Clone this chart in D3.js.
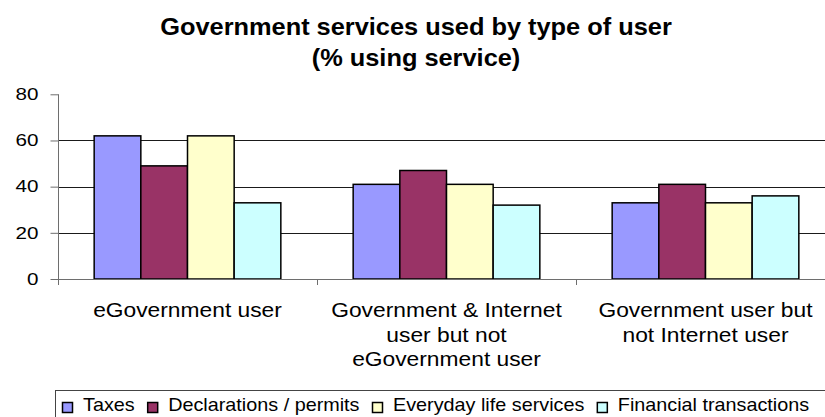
<!DOCTYPE html>
<html>
<head>
<meta charset="utf-8">
<script src="https://cdn.jsdelivr.net/npm/d3@7"></script>
<style>
  html, body { margin: 0; padding: 0; background: #fff; }
  svg { display: block; font-family: "Liberation Sans", Arial, sans-serif; }
</style>
</head>
<body>
<svg id="chart" width="825" height="417"></svg>
<script>
// Category labels (line breaks where the axis label wraps)
const categories = [
  "eGovernment user",
  "Government & Internet\nuser but not\neGovernment user",
  "Government user but\nnot Internet user"
];
const seriesNames = ["Taxes", "Declarations / permits", "Everyday life services", "Financial transactions"];
const taxes = [62, 41, 33];
const declarations = [49, 47, 41];
const everyday = [62, 41, 33];
const financial = [33, 32, 36];
const yTicks = [0, 20, 40, 60, 80];
const seriesColors = ["#9999FF", "#993366", "#FFFFCC", "#CCFFFF"];
const titleLines = ["Government services used by type of user", "(% using service)"];

const seriesValues = [taxes, declarations, everyday, financial];

const svg = d3.select("#chart");
const left = 58, band = 259, baseY = 279, topY = 94.3;

const x0 = d3.scaleBand().domain(d3.range(categories.length))
  .range([left, left + band * categories.length]).paddingInner(0).paddingOuter(0);
const x1 = d3.scaleBand().domain(d3.range(seriesNames.length))
  .range([0, x0.bandwidth()]).paddingInner(0).paddingOuter(0.775);
const y = d3.scaleLinear().domain([0, 80]).range([baseY, topY]);

// Title
svg.append("g").selectAll("text").data(titleLines).join("text")
  .attr("transform", (d, i) => `translate(416,${35 + i * 31}) scale(1.08,1)`)
  .attr("text-anchor", "middle")
  .attr("font-size", 23.5).attr("font-weight", "bold").attr("fill", "#000")
  .text(d => d);

// Gridlines
svg.append("g").selectAll("line").data(yTicks.filter(v => v > 0 && v < 80)).join("line")
  .attr("x1", left).attr("x2", 825)
  .attr("y1", d => Math.round(y(d)) + 0.5).attr("y2", d => Math.round(y(d)) + 0.5)
  .attr("stroke", "#1a1a1a").attr("stroke-width", 1);

// Bars
const groups = svg.append("g").selectAll("g").data(categories.map((c, i) => i)).join("g")
  .attr("transform", i => `translate(${x0(i)},0)`);
groups.selectAll("rect").data(i => seriesValues.map((vals, s) => ({ s, v: vals[i] }))).join("rect")
  .attr("x", d => x1(d.s)).attr("width", x1.bandwidth())
  .attr("y", d => y(d.v)).attr("height", d => baseY - y(d.v))
  .attr("fill", d => seriesColors[d.s])
  .attr("stroke", "#000").attr("stroke-width", 1.5);

// Y axis
const yAxis = svg.append("g").attr("transform", `translate(${left + 0.5},0)`)
  .call(d3.axisLeft(y).tickValues(yTicks).tickSize(8).tickSizeOuter(0));
yAxis.select(".domain").attr("stroke", "#6e6e6e").attr("d", `M0,${topY}V${baseY + 6}`);
yAxis.selectAll(".tick line").attr("stroke", "#6e6e6e");
yAxis.selectAll(".tick text")
  .attr("x", null)
  .attr("transform", "translate(-20,0) scale(1.25,1)")
  .attr("font-size", 16.5).attr("font-family", "Liberation Sans, Arial, sans-serif").attr("fill", "#000");

// X axis line and category boundary ticks
const xAxis = svg.append("g");
xAxis.append("line").attr("x1", left).attr("x2", 825)
  .attr("y1", baseY + 0.5).attr("y2", baseY + 0.5).attr("stroke", "#6e6e6e");
const bounds = categories.map((c, i) => x0(i)).concat([x0(categories.length - 1) + x0.bandwidth()]);
xAxis.selectAll("line.tk").data(bounds).join("line").attr("class", "tk")
  .attr("x1", d => d + 0.5).attr("x2", d => d + 0.5)
  .attr("y1", baseY).attr("y2", baseY + 6).attr("stroke", "#6e6e6e");

// Category labels
const catLabels = xAxis.selectAll("g.cat").data(categories.map((c, i) => i)).join("g").attr("class", "cat")
  .attr("transform", i => `translate(${x0(i) + x0.bandwidth() / 2},0)`);
catLabels.selectAll("text").data(i => categories[i].split("\n")).join("text")
  .attr("transform", (d, j) => `translate(0,${317 + j * 24.5}) scale(1.14,1)`)
  .attr("text-anchor", "middle").attr("font-size", 20).attr("fill", "#000")
  .text(d => d);

// Legend
const legend = svg.append("g");
legend.append("rect").attr("x", 55.5).attr("y", 390.5).attr("width", 800).attr("height", 60)
  .attr("fill", "#fff").attr("stroke", "#444").attr("stroke-width", 1);
let lx = 62;
const legendScale = 1.1;
seriesNames.forEach((name, s) => {
  legend.append("rect").attr("x", lx + 0.5).attr("y", 402.5).attr("width", 10).attr("height", 10)
    .attr("fill", seriesColors[s]).attr("stroke", "#000").attr("stroke-width", 1.5);
  const t = legend.append("text")
    .attr("transform", `translate(${lx + 21},410.7) scale(${legendScale},1)`)
    .attr("font-size", 18).attr("fill", "#000").text(name);
  const w = t.node().getComputedTextLength() * legendScale;
  lx += 21 + w + 12.5;
});
</script>
</body>
</html>
